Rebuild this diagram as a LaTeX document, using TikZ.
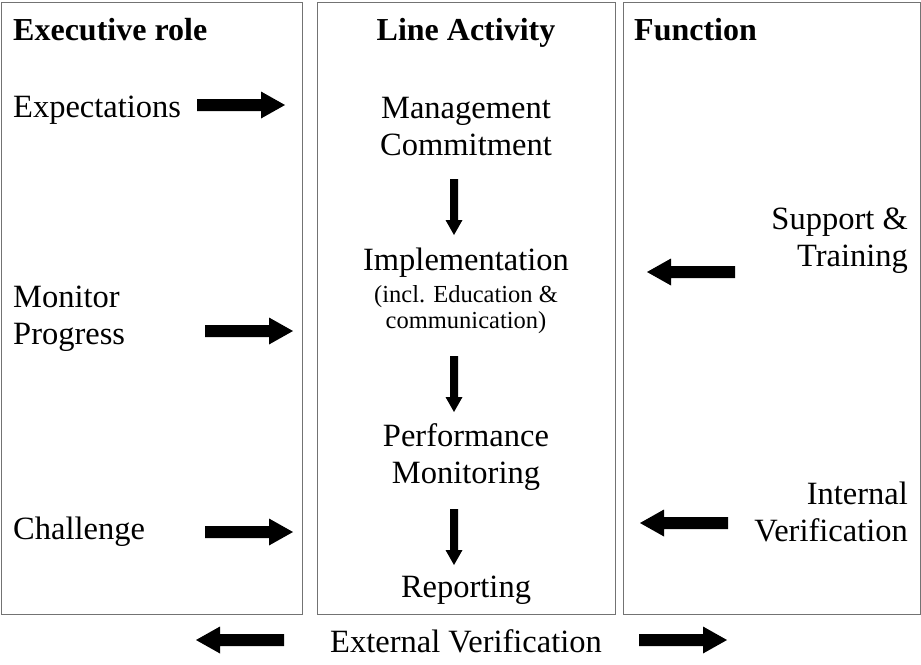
\documentclass[tikz,border=0pt]{standalone}
\usepackage{fontspec}
\setmainfont{Liberation Serif}
\begin{document}
\begin{tikzpicture}[x=1pt,y=-1pt,
  colbox/.style={draw=black!55,line width=1.4pt},
  txt/.style={inner sep=0pt,font=\fontsize{32.5}{37}\selectfont,align=center},
  head/.style={inner sep=0pt,font=\fontsize{32}{37}\selectfont\bfseries},
  note/.style={inner sep=0pt,font=\fontsize{24.5}{26}\selectfont,align=center},
  rarrow/.pic={\fill[black] (0,-6)--(64,-6)--(64,-13.5)--(88,0)--(64,13.5)--(64,6)--(0,6)--cycle;},
  larrow/.pic={\fill[black] (0,-6)--(-64,-6)--(-64,-13.5)--(-88,0)--(-64,13.5)--(-64,6)--(0,6)--cycle;},
  darrow/.pic={\fill[black] (-4,0)--(-4,41)--(-8.5,41)--(0,56)--(8.5,41)--(4,41)--(4,0)--cycle;}]
\useasboundingbox (0,0) rectangle (921,664);
% column boxes
\node[colbox,inner sep=0pt,minimum width=301pt,minimum height=612pt,anchor=north west] (exec) at (1,2) {};
\node[colbox,inner sep=0pt,minimum width=298pt,minimum height=612pt,anchor=north west] (line) at (317,2) {};
\node[colbox,inner sep=0pt,minimum width=297pt,minimum height=612pt,anchor=north west] (func) at (623,2) {};
% headings
\node[head,anchor=base west] (h1) at (13,40) {Executive role};
\node[head,anchor=base] (h2) at (466,40) {Line Activity};
\node[head,anchor=base west] (h3) at (634,40) {Function};
% executive column
\node[txt,anchor=base west] (expect) at (13,117) {Expectations};
\node[txt,anchor=base west,align=left] (monitor) at (13,344) {Monitor\\Progress};
\node[txt,anchor=base west] (chall) at (13,539) {Challenge};
\pic (ea1) at (197,105) {rarrow};
\pic (ea2) at (205,331) {rarrow};
\pic (ea3) at (205,532) {rarrow};
% line column
\node[txt,anchor=base] (mgmt) at (466,155) {Management\\Commitment};
\node[txt,anchor=base] (impl) at (466,270) {Implementation};
\node[note,anchor=base] (implnote) at (466,328) {(incl. Education \&\\communication)};
\node[txt,anchor=base] (perf) at (466,483) {Performance\\Monitoring};
\node[txt,anchor=base] (rep) at (466,597) {Reporting};
\pic (da1) at (454,179) {darrow};
\pic (da2) at (454,356) {darrow};
\pic (da3) at (454,509) {darrow};
% function column
\node[txt,anchor=base east,align=right] (support) at (908,266) {Support \&\\Training};
\node[txt,anchor=base east,align=right] (internal) at (908,541) {Internal\\Verification};
\pic (fa1) at (735,272) {larrow};
\pic (fa2) at (728,523) {larrow};
% external verification
\node[txt,anchor=base] (ext) at (466,652) {External Verification};
\pic (xa1) at (284,640) {larrow};
\pic (xa2) at (639,640) {rarrow};
\end{tikzpicture}
\end{document}
